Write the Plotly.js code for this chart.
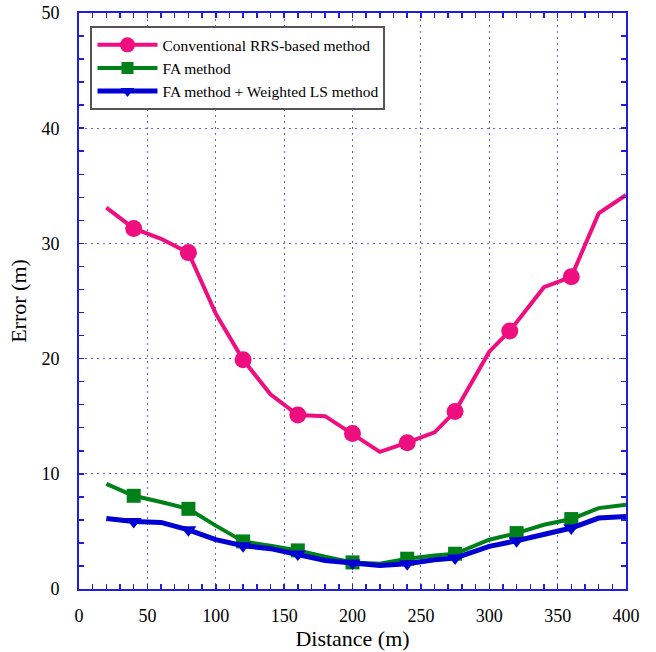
<!DOCTYPE html>
<html>
<head>
<meta charset="utf-8">
<script src="https://cdn.plot.ly/plotly-3.0.1.min.js"></script>
<style>html,body{margin:0;padding:0;background:#fff;}#chart{width:656px;height:652px;}</style>
</head>
<body>
<div id="chart"></div>
<script>
// ---- data ----
const seriesNames = ["Conventional RRS-based method", "FA method", "FA method + Weighted LS method"];

const distRRS = [20, 40, 60, 80, 100, 120, 140, 160, 180, 200, 220, 240, 260, 275, 300, 315, 340, 360, 380, 400];
const errRRS  = [33.1, 31.3, 30.4, 29.2, 23.9, 19.9, 16.9, 15.1, 15.0, 13.5, 11.9, 12.7, 13.6, 15.4, 20.6, 22.4, 26.2, 27.1, 32.6, 34.2];
const markRRS = [40, 80, 120, 160, 200, 240, 275, 315, 360];

const distFA = [20, 40, 60, 80, 100, 120, 140, 160, 180, 200, 220, 240, 260, 275, 300, 320, 340, 360, 380, 400];
const errFA  = [9.13, 8.09, 7.55, 6.96, 5.5, 4.13, 3.75, 3.35, 2.8, 2.31, 2.2, 2.63, 2.9, 3.06, 4.28, 4.85, 5.58, 6.07, 7.02, 7.31];
const markFA = [40, 80, 120, 160, 200, 240, 275, 320, 360];

const distWLS = [20, 40, 60, 80, 100, 120, 140, 160, 180, 200, 220, 240, 260, 275, 300, 320, 340, 360, 380, 400];
const errWLS  = [6.12, 5.86, 5.78, 5.14, 4.28, 3.76, 3.5, 3.03, 2.48, 2.25, 2.05, 2.19, 2.54, 2.69, 3.7, 4.19, 4.77, 5.29, 6.16, 6.3];
const markWLS = [40, 80, 120, 160, 200, 240, 275, 320, 360];

const xTicks = [0, 50, 100, 150, 200, 250, 300, 350, 400];
const yTicks = [0, 10, 20, 30, 40, 50];

// ---- styles ----
const styles = [
  {color: "rgb(238,14,128)", width: 4, symbol: "circle", size: 17},
  {color: "rgb(0,128,24)", width: 4, symbol: "square", size: 14},
  {color: "rgb(0,0,210)", width: 5, symbol: "triangle-down", size: 14}
];
const series = [
  {x: distRRS, y: errRRS, m: markRRS},
  {x: distFA, y: errFA, m: markFA},
  {x: distWLS, y: errWLS, m: markWLS}
];

const traces = [];
series.forEach((s, i) => {
  const st = styles[i];
  traces.push({x: s.x, y: s.y, mode: "lines", showlegend: false, hoverinfo: "skip",
    line: {color: st.color, width: st.width}});
  const mx = [], my = [];
  s.x.forEach((v, k) => { if (s.m.includes(v)) { mx.push(v); my.push(s.y[k]); } });
  traces.push({x: mx, y: my, mode: "markers", showlegend: false,
    marker: {color: st.color, symbol: st.symbol, size: st.size, line: {width: 0}}});
});
series.forEach((s, i) => {
  const st = styles[i];
  traces.push({x: [null], y: [null], mode: "lines+markers", name: seriesNames[i],
    line: {color: st.color, width: st.width},
    marker: {color: st.color, symbol: st.symbol, size: st.size - 2, line: {width: 0}}});
});

const axisBlue = "rgb(30,30,220)";
const gridBlue = "rgba(60,60,235,0.8)";
const font = "'Liberation Serif', 'Times New Roman', Times, serif";

const layout = {
  width: 656, height: 652,
  margin: {l: 79, r: 30, t: 13, b: 63},
  paper_bgcolor: "#fff", plot_bgcolor: "#fff",
  font: {family: font, color: "#000", weight: "normal"},
  showlegend: true,
  legend: {x: 0.021, y: 0.977, xanchor: "left", yanchor: "top",
    bgcolor: "#fff", bordercolor: "#555", borderwidth: 2,
    font: {family: font, size: 15.5, color: "#000", weight: "normal"}, itemwidth: 60, tracegroupgap: 0},
  xaxis: {
    range: [0, 400], tickvals: xTicks, ticktext: xTicks.map(String),
    showline: true, linecolor: axisBlue, linewidth: 2, mirror: "ticks",
    ticks: "inside", ticklen: 5, tickcolor: axisBlue, tickwidth: 1.5,
    minor: {dtick: 10, ticks: "inside", ticklen: 5, tickcolor: axisBlue, tickwidth: 1.5, showgrid: false},
    showgrid: true, gridcolor: gridBlue, gridwidth: 1, griddash: "2px,4px",
    zeroline: false, tickfont: {family: font, size: 18, color: "#000", weight: "normal"},
    ticklabelstandoff: 9,
    title: {text: "Distance (m)", font: {family: font, size: 22, color: "#000", weight: "normal"}, standoff: 6}
  },
  yaxis: {
    range: [0, 50], tickvals: yTicks, ticktext: yTicks.map(String),
    showline: true, linecolor: axisBlue, linewidth: 2, mirror: "ticks",
    ticks: "inside", ticklen: 5, tickcolor: axisBlue, tickwidth: 1.5,
    minor: {dtick: 2, ticks: "inside", ticklen: 5, tickcolor: axisBlue, tickwidth: 1.5, showgrid: false},
    showgrid: true, gridcolor: gridBlue, gridwidth: 1, griddash: "2px,4px",
    zeroline: false, tickfont: {family: font, size: 18, color: "#000", weight: "normal"},
    ticklabelstandoff: 14,
    title: {text: "Error (m)", font: {family: font, size: 22, color: "#000", weight: "normal"}, standoff: 9}
  }
};

Plotly.newPlot("chart", traces, layout, {displayModeBar: false, staticPlot: true});
</script>
</body>
</html>
